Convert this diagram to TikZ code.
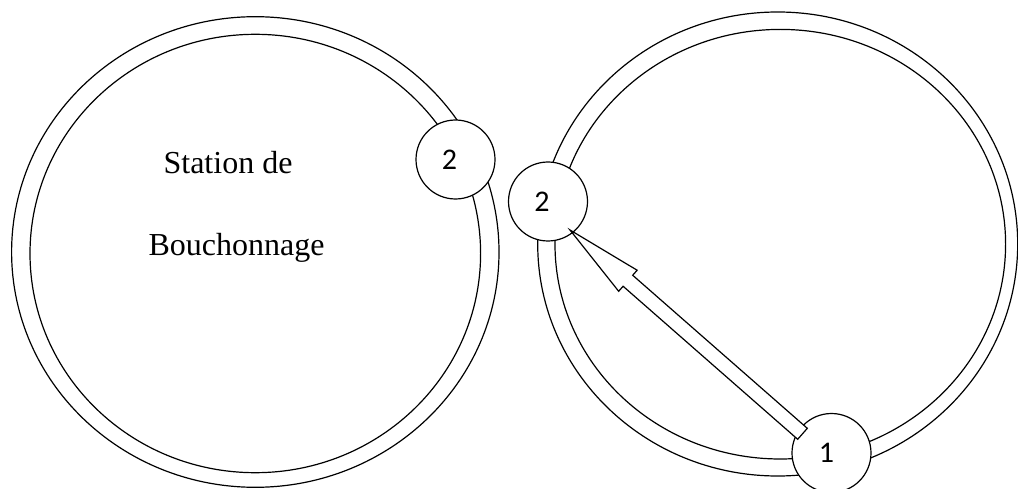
\documentclass[tikz,border=0pt]{standalone}
\usepackage{fontspec}
\setmainfont{Liberation Serif}
\newfontfamily\numfont{Carlito}
\usetikzlibrary{calc}
\begin{document}
\begin{tikzpicture}[x=1pt,y=-1pt,line width=1.2pt,
  ringline/.style={draw=black},
  station/.style={circle,draw=black,fill=white,minimum size=79pt,inner sep=0pt},
  stationlabel/.style={font=\numfont\fontsize{30}{30}\selectfont,inner sep=0pt},
  caption/.style={font=\fontsize{32}{34}\selectfont,inner sep=0pt,anchor=base west},
  blockarrow/.style={draw=black,fill=white,line join=miter}]
  \useasboundingbox (0,0) rectangle (1018,489);

  % left carousel: double ring
  \draw[ringline] (255.3,252) ellipse [x radius=243.7pt, y radius=235.3pt];
  \draw[ringline] (255.3,253.5) ellipse [x radius=225.3pt, y radius=219.2pt];
  \node[caption] (t1) at (163,174) {Station de};
  \node[caption] (t2) at (148,255.5) {Bouchonnage};

  % right carousel: double ring
  \draw[ringline] (777.7,244) ellipse [x radius=240pt, y radius=232pt];
  \draw[ringline] (780.3,244.2) ellipse [x radius=225.3pt, y radius=214.8pt];

  % transfer stations on the rings
  \node[station] (sA) at (455.5,159.5) {};
  \node[stationlabel] at ([xshift=-6pt]sA.center) {2};
  \node[station] (sB) at (548,201.5) {};
  \node[stationlabel] at ([xshift=-6pt]sB.center) {2};
  \node[station] (sC) at (831.5,453) {};
  \node[stationlabel] at ([xshift=-5pt]sC.center) {1};

  % block arrow from station 1 to station 2
  \coordinate (tail) at (802.5,433.8);
  \coordinate (tip) at (570,230);
  \coordinate (hb) at ($(tip)!77pt!(tail)$);
  \draw[blockarrow]
    ($(tail)!7.3pt!90:(tip)$) --
    ($(hb)!7.3pt!90:(tip)$) --
    ($(hb)!14pt!90:(tip)$) --
    (tip) --
    ($(hb)!14pt!-90:(tip)$) --
    ($(hb)!7.3pt!-90:(tip)$) --
    ($(tail)!7.3pt!-90:(tip)$) -- cycle;
\end{tikzpicture}
\end{document}
